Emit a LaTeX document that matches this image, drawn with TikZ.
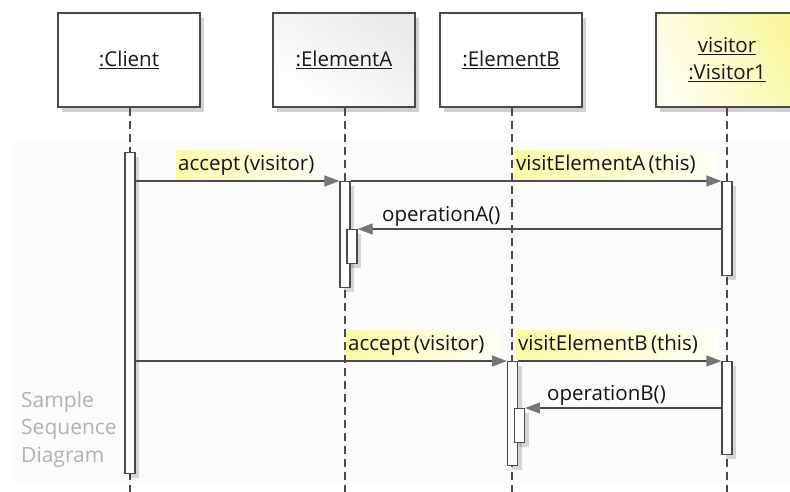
\documentclass[tikz,border=0pt]{standalone}
\usepackage{fontspec}
\setmainfont{Open Sans}
\usetikzlibrary{arrows.meta,shadows,calc}
\definecolor{linec}{HTML}{4A4A4A}
\definecolor{tipc}{HTML}{777777}
\definecolor{hl}{HTML}{FBFBA8}
\definecolor{vis}{HTML}{F8F8A0}
\tikzset{
  obj/.style={draw=linec, line width=1.4pt, minimum width=142pt, minimum height=94pt,
     align=center, font=\fontsize{20.5}{27}\selectfont, text=black!90, inner sep=0pt,
     drop shadow={shadow xshift=4pt, shadow yshift=-5pt, opacity=0.18, fill=black}},
  life/.style={draw=linec, line width=1.3pt, dash pattern=on 8pt off 5pt},
  act/.style={draw=linec, line width=1.2pt, fill=white, minimum width=10pt, inner sep=0pt, anchor=north,
     drop shadow={shadow xshift=4pt, shadow yshift=-4pt, opacity=0.15, fill=black}},
  msg/.style={draw=linec, line width=1.2pt, -{Triangle[length=15pt, width=11pt, fill=tipc, color=tipc]}},
  lbl/.style={font=\fontsize{20.5}{22}\selectfont, text=black!92, inner xsep=2pt, inner ysep=1.5pt, anchor=south west},
  hlbl/.style={lbl, align=left, left color=hl, right color=hl!10, minimum height=29pt, text depth=5pt},
  note/.style={font=\fontsize{21}{27.5}\selectfont, text=black!30, align=left, anchor=north west, inner sep=0pt}
}
\begin{document}
\begin{tikzpicture}[x=1pt,y=-1pt]
\useasboundingbox (0,0) rectangle (790,492);
\clip (0,0) rectangle (790,492);
% background frame
\fill[black!1.6, rounded corners=14pt] (12,140) rectangle (820,484);
% objects
\node[obj, fill=white] (client) at (129,60) {\underline{:Client}};
\node[obj, top color=black!8, bottom color=white, shading angle=-35] (ea) at (344,60) {\underline{:ElementA}};
\node[obj, fill=white] (eb) at (511,60) {\underline{:ElementB}};
\node[obj, shading=axis, left color=vis, right color=vis!15, shading angle=-60] (vis) at (727,60) {\underline{visitor}\\\underline{:Visitor1}};
% lifelines
\coordinate (cl) at (130,492);
\coordinate (al) at (345,492);
\coordinate (bl) at (512,492);
\coordinate (vl) at (727,492);
\draw[life] (client.south -| cl) -- (cl);
\draw[life] (ea.south -| al) -- (al);
\draw[life] (eb.south -| bl) -- (bl);
\draw[life] (vis.south -| vl) -- (vl);
% label highlights + labels
\node[hlbl, text width=138pt] (l1) at (176,180) {accept\,(visitor)};
\node[hlbl, text width=198pt] (l2) at (514,180) {visitElementA\,(this)};
\node[hlbl, text width=150pt] (l4) at (346,360) {accept\,(visitor)};
\node[hlbl, text width=198pt] (l5) at (516,360) {visitElementB\,(this)};
% activations
\node[act, minimum height=321pt] (cbar) at (130,152) {};
\node[act, minimum height=106pt] (abar) at (345,181) {};
\node[act, minimum height=94pt] (vbar1) at (727,181) {};
\node[act, minimum height=34pt] (anest) at (352,229) {};
\node[act, minimum height=104pt] (bbar) at (512.5,361) {};
\node[act, minimum height=93pt] (vbar2) at (727,361) {};
\node[act, minimum height=34pt] (bnest) at (519.5,408) {};
% messages
\draw[msg] (abar.north west -| cbar.east) -- (abar.north west);
\draw[msg] (abar.north east) -- (vbar1.north west);
\draw[msg] (anest.north east -| vbar1.west) -- (anest.north east);
\draw[msg] (bbar.north west -| cbar.east) -- (bbar.north west);
\draw[msg] (bbar.north east) -- (vbar2.north west);
\draw[msg] (bnest.north east -| vbar2.west) -- (bnest.north east);
\node[lbl] (l3) at (380,228) {operationA()};
\node[lbl] (l6) at (545,407) {operationB()};
% note
\node[note] (nt) at (21,391) {Sample\\Sequence\\Diagram};
\end{tikzpicture}
\end{document}
